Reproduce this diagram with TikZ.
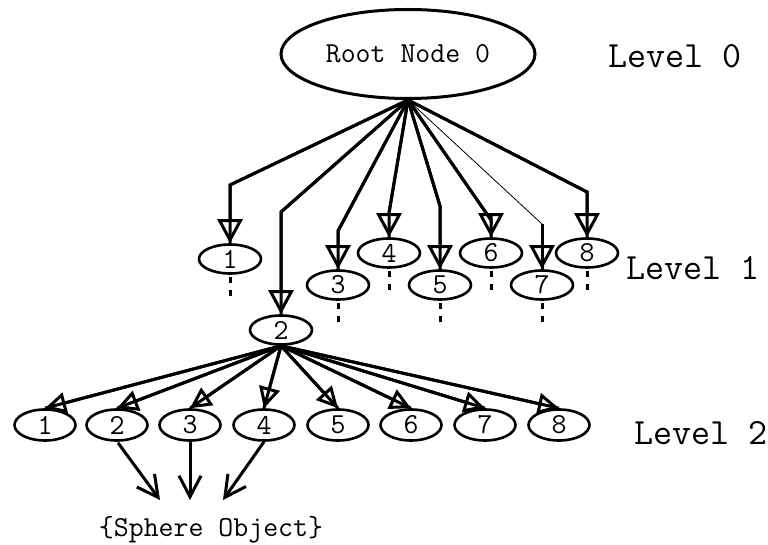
\documentclass[tikz,border=0pt]{standalone}
\usepackage{fontspec}
\usetikzlibrary{shapes.geometric,arrows.meta}
\begin{document}
\begin{tikzpicture}[x=1pt,y=-1pt,
  rootnode/.style={ellipse,draw,line width=3pt,minimum width=254pt,minimum height=89pt,
    inner sep=0pt,font=\ttfamily\fontsize{29}{34}\selectfont},
  kid/.style={ellipse,draw,line width=2.6pt,minimum width=62pt,minimum height=29pt,
    inner sep=0pt,font=\ttfamily\fontsize{29}{33}\selectfont},
  leaf/.style={kid,minimum width=61pt,minimum height=31pt},
  lvl/.style={font=\ttfamily\fontsize{37}{42}\selectfont},
  % open head with the shaft running through it to the tip
  link/.style={line width=3pt,line join=miter,
    -{Triangle[open,length=24pt,width=25pt]},postaction={draw,-}},
  sublink/.style={line width=3pt,
    -{Triangle[open,length=21pt,width=21pt]},postaction={draw,-}},
  more/.style={line width=3pt,dash pattern=on 6pt off 7pt},
  toobj/.style={line width=3pt,-{Straight Barb[length=21pt,width=22pt]}}
]
\useasboundingbox (0,0) rectangle (768,545);

% root and level labels
\node[rootnode] (root) at (408,54) {Root Node 0};
\node[lvl] (L0) at (675,56) {Level 0};
\node[lvl] (L1) at (693,268) {Level 1};
\node[lvl] (L2) at (701,433) {Level 2};

% level 1 children
\node[kid] (a1) at (230,259) {1};
\node[kid] (a2) at (281,330) {2};
\node[kid] (a3) at (338,285) {3};
\node[kid] (a4) at (389,253) {4};
\node[kid] (a5) at (440,285) {5};
\node[kid] (a6) at (491,253) {6};
\node[kid] (a7) at (542,285) {7};
\node[kid] (a8) at (587,253) {8};

% level 2 children of node 2
\foreach \i/\x in {1/45,2/117,3/190,4/264,5/338,6/411,7/485,8/559}
  \node[leaf] (b\i) at (\x,425) {\i};

% root to level 1 (bent connectors)
\draw[link] (root.south) -- (a1.north |- 0,185) -- (a1.north);
\draw[link] (root.south) -- (a2.north |- 0,212) -- (a2.north);
\draw[link] (root.south) -- (a3.north |- 0,231) -- (a3.north);
\draw[link] (root.south) -- (a4.north |- 0,213) -- (a4.north);
\draw[link] (root.south) -- (a5.north |- 0,206) -- (a5.north);
\draw[link] (root.south) -- (a6.north |- 0,220) -- (a6.north);
\coordinate (k7) at (a7.north |- 0,224);
\draw[line width=0.8pt] (root.south) -- (k7);
\draw[link] (k7) -- (a7.north);
\draw[link] (root.south) -- (a8.north |- 0,192) -- (a8.north);

% continuation marks under the unexpanded children
\foreach \n in {a1,a3,a4,a5,a6,a7,a8}
  \draw[more] (\n.south) ++(0,2) -- ++(0,19);

% node 2 to level 2
\foreach \i in {1,...,8}
  \draw[sublink] (a2.south) -- (b\i.north);

% leaves pointing to the stored object
\node[font=\ttfamily\fontsize{29}{34}\selectfont] (obj) at (211,530) {\{Sphere Object\}};
\coordinate (t2) at (160,500);
\coordinate (t3) at (190,500);
\coordinate (t4) at (223,500);
\draw[toobj] (b2.south) ++(1,1) -- (t2);
\draw[toobj] (b3.south) -- (t3);
\draw[toobj] (b4.south) -- (t4);
\end{tikzpicture}
\end{document}
